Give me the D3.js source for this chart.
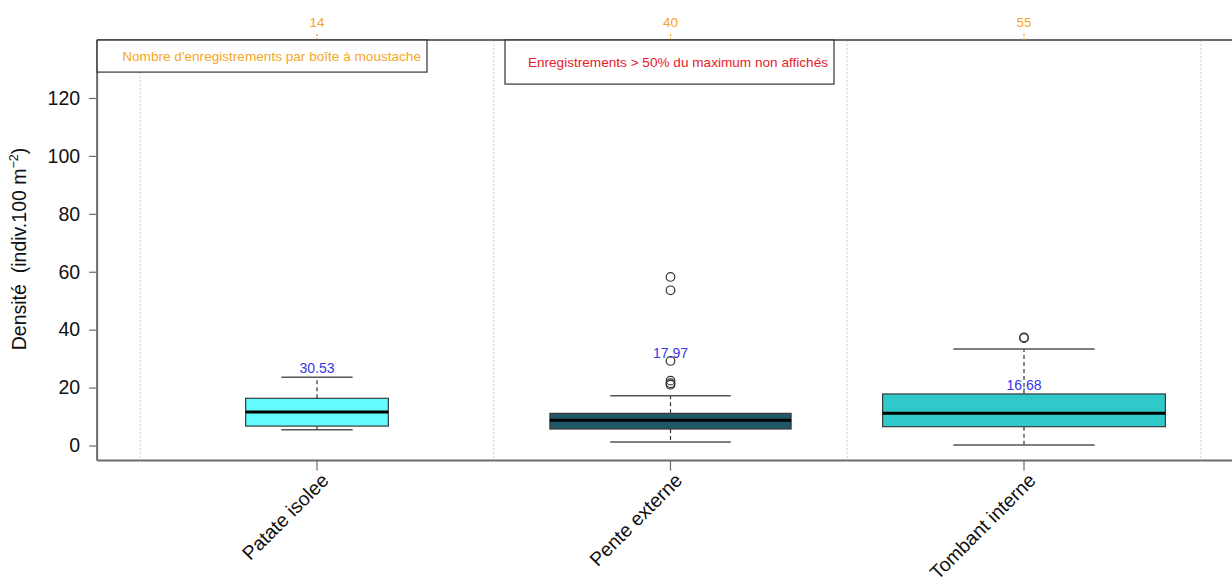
<!DOCTYPE html>
<html>
<head>
<meta charset="utf-8">
<script src="https://cdn.jsdelivr.net/npm/d3@7"></script>
<style>
  html, body { margin: 0; padding: 0; background: #fff; }
  svg { display: block; font-family: "Liberation Sans", Arial, sans-serif; }
  .pre { white-space: pre; }
</style>
</head>
<body>
<svg id="chart" width="1232" height="586"></svg>
<script>
// Habitat categories and their record counts
const categories = ["Patate isolee", "Pente externe", "Tombant interne"];
const counts = [14, 40, 55];
const boxColors = ["#63fbfb", "#1f5868", "#30c9c9"];

// Box statistics (density, indiv.100 m-2)
const whiskerLow = [5.4, 1.2, 0.2];
const q1 = [6.7, 5.7, 6.5];
const median = [11.6, 8.7, 11.1];
const q3 = [16.3, 11.1, 17.8];
const whiskerHigh = [23.6, 17.2, 33.3];
const outliers = [[], [58.2, 53.6, 29.2, 22.4, 21.5, 21.0], [37.1, 37.3]];

// Value annotations and the level where each is written
const annotations = ["30.53", "17.97", "16.68"];
const annotationAt = [26.8, 32.0, 20.9];

const yTicks = [0, 20, 40, 60, 80, 100, 120];

const svg = d3.select("#chart");

// Scales: category index on x, density on y
const x = d3.scaleLinear().domain([0, 2]).range([317, 1024]);
const y = d3.scaleLinear().domain([0, 120]).range([445.5, 98]);
const step = x(1) - x(0);

const plotLeft = x(-0.622), plotRight = 1240;
const plotTop = y(140), plotBottom = y(-5.2);
const maxN = d3.max(counts);
const boxW = counts.map(n => 0.8 * step * Math.sqrt(n) / Math.sqrt(maxN));

const axisColor = "#6b6b6b";

// Dotted separators between categories
svg.append("g").selectAll("line").data(d3.range(4)).join("line")
  .attr("x1", i => x(i - 0.5)).attr("x2", i => x(i - 0.5))
  .attr("y1", plotTop).attr("y2", plotBottom)
  .attr("stroke", "#cfcfcf").attr("stroke-width", 1)
  .attr("stroke-dasharray", "2,2");

// Frame: left, top and bottom lines
svg.append("line").attr("x1", plotLeft).attr("x2", plotRight).attr("y1", plotTop).attr("y2", plotTop)
  .attr("stroke", axisColor).attr("stroke-width", 2);
svg.append("line").attr("x1", plotLeft).attr("x2", plotRight).attr("y1", plotBottom).attr("y2", plotBottom)
  .attr("stroke", axisColor).attr("stroke-width", 2);
svg.append("line").attr("x1", plotLeft).attr("x2", plotLeft).attr("y1", plotTop).attr("y2", plotBottom)
  .attr("stroke", axisColor).attr("stroke-width", 2);

// Y axis
const yAxis = d3.axisLeft(y).tickValues(yTicks).tickSize(8).tickPadding(9);
const gy = svg.append("g").attr("transform", `translate(${plotLeft},0)`).call(yAxis);
gy.select(".domain").remove();
gy.selectAll(".tick line").attr("stroke", axisColor).attr("stroke-width", 1.2);
gy.selectAll(".tick text").attr("font-size", 19.5).attr("fill", "#111")
  .attr("font-family", "Liberation Sans, Arial, sans-serif");

// Y axis title
const yt = svg.append("text").attr("class", "pre")
  .attr("transform", `translate(26,249) rotate(-90)`)
  .attr("text-anchor", "middle").attr("font-size", 19.5).attr("fill", "#111");
yt.append("tspan").text("Densité  (indiv.100 m");
yt.append("tspan").attr("font-size", 12.5).attr("dy", -8).text("\u22122");
yt.append("tspan").attr("dy", 8).text(")");

// X axis ticks and rotated labels
const gx = svg.append("g");
gx.selectAll("line").data(categories).join("line")
  .attr("x1", (d, i) => x(i)).attr("x2", (d, i) => x(i))
  .attr("y1", plotBottom).attr("y2", plotBottom + 10)
  .attr("stroke", axisColor).attr("stroke-width", 1.2);
gx.selectAll("text").data(categories).join("text")
  .attr("transform", (d, i) => `translate(${x(i) + 13},${plotBottom + 21}) rotate(-45)`)
  .attr("text-anchor", "end").attr("font-size", 19.5).attr("fill", "#111")
  .text(d => d);

// Record counts on top, with dotted orange ticks
const gt = svg.append("g");
gt.selectAll("line").data(counts).join("line")
  .attr("x1", (d, i) => x(i)).attr("x2", (d, i) => x(i))
  .attr("y1", plotTop).attr("y2", plotTop - 8)
  .attr("stroke", "#f5a623").attr("stroke-width", 1.2).attr("stroke-dasharray", "2,2");
gt.selectAll("text").data(counts).join("text")
  .attr("x", (d, i) => x(i)).attr("y", plotTop - 13)
  .attr("text-anchor", "middle").attr("font-size", 13.5).attr("fill", "#f5a623")
  .text(d => d);

// Boxplots
const g = svg.append("g");
categories.forEach((c, i) => {
  const cx = x(i), w = boxW[i], cap = w / 2;
  // dashed whiskers
  g.append("line").attr("x1", cx).attr("x2", cx).attr("y1", y(q3[i])).attr("y2", y(whiskerHigh[i]))
    .attr("stroke", "#333").attr("stroke-width", 1.2).attr("stroke-dasharray", "4,3");
  g.append("line").attr("x1", cx).attr("x2", cx).attr("y1", y(q1[i])).attr("y2", y(whiskerLow[i]))
    .attr("stroke", "#333").attr("stroke-width", 1.2).attr("stroke-dasharray", "4,3");
  // caps
  [whiskerHigh[i], whiskerLow[i]].forEach(v => {
    g.append("line").attr("x1", cx - cap / 2).attr("x2", cx + cap / 2).attr("y1", y(v)).attr("y2", y(v))
      .attr("stroke", "#555").attr("stroke-width", 1.5);
  });
  // box
  g.append("rect").attr("x", cx - w / 2).attr("width", w)
    .attr("y", y(q3[i])).attr("height", y(q1[i]) - y(q3[i]))
    .attr("fill", boxColors[i]).attr("stroke", "#3a3a3a").attr("stroke-width", 1.2);
  // median
  g.append("line").attr("x1", cx - w / 2).attr("x2", cx + w / 2)
    .attr("y1", y(median[i])).attr("y2", y(median[i]))
    .attr("stroke", "#000").attr("stroke-width", 3);
  // outliers
  g.selectAll(null).data(outliers[i]).join("circle")
    .attr("cx", cx).attr("cy", d => y(d)).attr("r", 4.3)
    .attr("fill", "none").attr("stroke", "#333").attr("stroke-width", 1.2);
  // value annotation
  g.append("text").attr("x", cx).attr("y", y(annotationAt[i]) + 5)
    .attr("text-anchor", "middle").attr("font-size", 14).attr("fill", "#3636e8")
    .text(annotations[i]);
});

// Legend boxes
function legendBox(x0, x1, h, label, color) {
  svg.append("rect").attr("x", x0).attr("y", plotTop).attr("width", x1 - x0).attr("height", h)
    .attr("fill", "#fff").attr("stroke", "#333").attr("stroke-width", 1.2);
  svg.append("text").attr("x", x1 - 6).attr("y", plotTop + h / 2 + 5)
    .attr("text-anchor", "end").attr("font-size", 13.6).attr("fill", color)
    .text(label);
}
legendBox(plotLeft, 427, 32, "Nombre d'enregistrements par boîte à moustache", "#f5a623");
legendBox(505, 834, 44, "Enregistrements > 50% du maximum non affichés", "#e8202a");
</script>
</body>
</html>
